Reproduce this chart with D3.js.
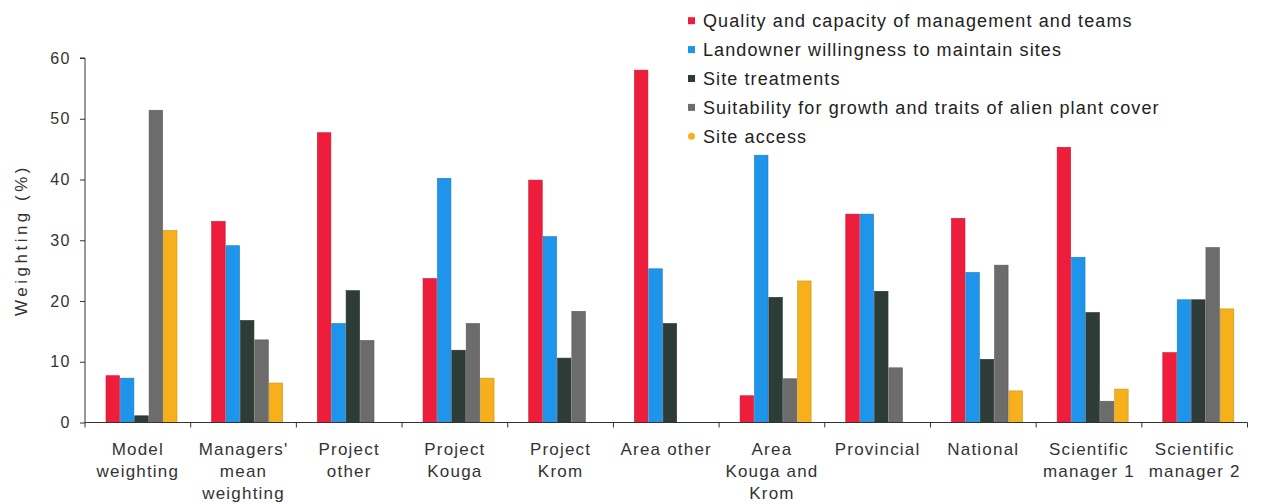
<!DOCTYPE html>
<html>
<head>
<meta charset="utf-8">
<script src="https://cdn.jsdelivr.net/npm/d3@7"></script>
<style>
  html, body { margin: 0; padding: 0; background: #ffffff; }
  svg { display: block; font-family: "Liberation Sans", Arial, Helvetica, sans-serif; }
</style>
</head>
<body>
<svg id="chart" width="1261" height="504"></svg>
<script>
// Categories along the x axis; "|" separates the lines of each label.
const categories = [
  "Model|weighting",
  "Managers'|mean|weighting",
  "Project|other",
  "Project|Kouga",
  "Project|Krom",
  "Area other",
  "Area|Kouga and|Krom",
  "Provincial",
  "National",
  "Scientific|manager 1",
  "Scientific|manager 2"
];

const seriesNames = [
  "Quality and capacity of management and teams",
  "Landowner willingness to maintain sites",
  "Site treatments",
  "Suitability for growth and traits of alien plant cover",
  "Site access"
];

// Weighting (%) per category, one array per factor (null = no bar).
const quality     = [7.7, 33.1, 47.7, 23.7, 39.9, 58.0, 4.4, 34.3, 33.6, 45.3, 11.5];
const landowner   = [7.3, 29.1, 16.3, 40.2, 30.6, 25.3, 44.0, 34.3, 24.7, 27.2, 20.2];
const treatments  = [1.1, 16.8, 21.7, 11.9, 10.6, 16.3, 20.6, 21.6, 10.4, 18.1, 20.2];
const suitability = [51.4, 13.6, 13.5, 16.3, 18.3, null, 7.2, 9.0, 25.9, 3.5, 28.8];
const access      = [31.6, 6.5, null, 7.3, null, null, 23.3, null, 5.2, 5.5, 18.7];

const yTicks = [0, 10, 20, 30, 40, 50, 60];
const yTitle = "Weighting (%)";

const seriesValues = [quality, landowner, treatments, suitability, access];
const seriesColors = ["#ee1d3b", "#1e94ea", "#2e3c37", "#6c6c6c", "#f5b01c"];

const svg = d3.select("#chart");

const x0 = d3.scaleBand().domain(categories).range([85, 1247.5]).paddingInner(0).paddingOuter(0);
const x1 = d3.scaleBand().domain(seriesNames).range([21, 92]).paddingInner(0.06);
const y = d3.scaleLinear().domain([0, 60]).range([422.5, 58]);
const color = d3.scaleOrdinal().domain(seriesNames).range(seriesColors);

// Bars
const groups = svg.append("g").selectAll("g")
  .data(categories)
  .join("g")
  .attr("transform", d => `translate(${x0(d)},0)`);

groups.selectAll("rect")
  .data((c, i) => seriesNames.map((s, k) => ({ s, v: seriesValues[k][i] })).filter(d => d.v != null))
  .join("rect")
  .attr("x", d => x1(d.s))
  .attr("width", x1.bandwidth())
  .attr("y", d => y(d.v))
  .attr("height", d => y(0) - y(d.v))
  .attr("fill", d => color(d.s))
  .attr("stroke", d => d3.color(color(d.s)).darker(0.5))
  .attr("stroke-width", 0.6);

// Y axis
const yAxis = svg.append("g")
  .attr("transform", `translate(${x0.range()[0]},0)`)
  .call(d3.axisLeft(y).tickValues(yTicks).tickSize(5).tickPadding(9).tickFormat(d3.format("d")));
yAxis.select(".domain").attr("stroke", "#333").attr("d", `M-5,${y(60)}H0V${y(0)}`);
yAxis.selectAll(".tick line").attr("stroke", "#333");
yAxis.selectAll(".tick text")
  .attr("fill", "#333")
  .style("font-size", "16px")
  .style("letter-spacing", "1.5px")
  .style("font-family", "'Liberation Sans', Arial, sans-serif");

// X axis with ticks on category boundaries
const xAxis = svg.append("g").attr("transform", `translate(0,${y(0)})`);
xAxis.append("line")
  .attr("x1", x0.range()[0]).attr("x2", x0.range()[1])
  .attr("stroke", "#333");
const boundaries = categories.map(c => x0(c)).concat([x0.range()[1]]);
xAxis.selectAll("line.tick")
  .data(boundaries)
  .join("line")
  .attr("class", "tick")
  .attr("x1", d => d).attr("x2", d => d)
  .attr("y1", 0).attr("y2", 5)
  .attr("stroke", "#333");

const labels = xAxis.selectAll("text.cat")
  .data(categories)
  .join("text")
  .attr("class", "cat")
  .attr("text-anchor", "middle")
  .attr("fill", "#333")
  .style("font-size", "17px")
  .style("letter-spacing", "1.2px")
  .attr("transform", d => `translate(${x0(d) + x0.bandwidth() / 2},0)`);
labels.selectAll("tspan")
  .data(d => d.split("|"))
  .join("tspan")
  .attr("x", 0)
  .attr("y", (d, i) => 32 + i * 22)
  .text(d => d);

// Y title
svg.append("text")
  .attr("transform", `translate(27,${(162 + 318) / 2}) rotate(-90)`)
  .attr("text-anchor", "middle")
  .attr("fill", "#333")
  .style("font-size", "17px")
  .style("letter-spacing", "3.5px")
  .text(yTitle);

// Legend
const legend = svg.append("g").attr("transform", "translate(688,0)");
const rows = legend.selectAll("g")
  .data(seriesNames)
  .join("g")
  .attr("transform", (d, i) => `translate(0,${20.7 + i * 28.9})`);
rows.append("rect")
  .attr("x", 0).attr("y", -3.5)
  .attr("width", 7).attr("height", 7)
  .attr("rx", (d, i) => i === 4 ? 3.5 : 0)
  .attr("fill", d => color(d));
rows.append("text")
  .attr("x", 15)
  .attr("dy", "0.35em")
  .attr("fill", "#222")
  .style("font-size", "18px")
  .style("letter-spacing", "1.1px")
  .text(d => d);
</script>
</body>
</html>
